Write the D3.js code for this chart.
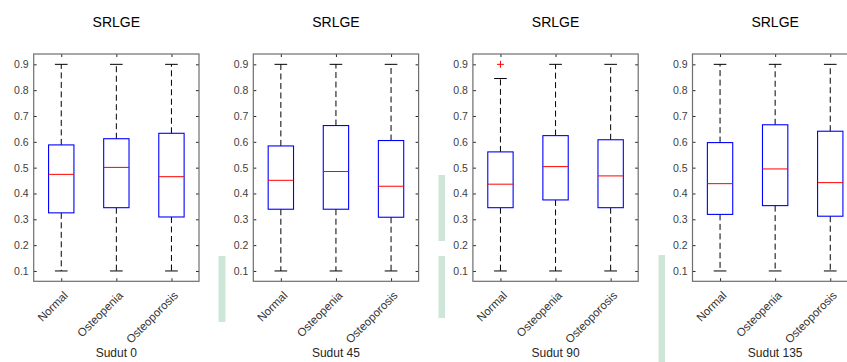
<!DOCTYPE html>
<html>
<head>
<meta charset="utf-8">
<script src="https://cdn.jsdelivr.net/npm/d3@7"></script>
<style>
  html, body { margin: 0; padding: 0; background: #fff; }
  svg { display: block; font-family: "Liberation Sans", Arial, sans-serif; }
</style>
</head>
<body>
<div id="chart"></div>
<script>
// SRLGE boxplots per angle (Sudut), three bone classes each

const angles = ['Sudut 0', 'Sudut 45', 'Sudut 90', 'Sudut 135']
const categories = ['Normal', 'Osteopenia', 'Osteoporosis']
const yTicks = [0.1, 0.2, 0.3, 0.4, 0.5, 0.6, 0.7, 0.8, 0.9]

// one row per angle, one value per category
const q1Values = [
  [0.325, 0.345, 0.309],
  [0.339, 0.339, 0.308],
  [0.345, 0.375, 0.345],
  [0.319, 0.353, 0.312]
]
const medianValues = [
  [0.474, 0.501, 0.465],
  [0.451, 0.485, 0.428],
  [0.436, 0.504, 0.468],
  [0.438, 0.495, 0.442]
]
const q3Values = [
  [0.588, 0.612, 0.633],
  [0.584, 0.663, 0.605],
  [0.561, 0.624, 0.608],
  [0.597, 0.666, 0.641]
]
const whiskerLow = [
  [0.1, 0.1, 0.1],
  [0.1, 0.1, 0.1],
  [0.1, 0.1, 0.1],
  [0.1, 0.1, 0.1]
]
const whiskerHigh = [
  [0.9, 0.9, 0.9],
  [0.9, 0.9, 0.9],
  [0.845, 0.9, 0.9],
  [0.9, 0.9, 0.9]
]
const outliers = [
  [[], [], []],
  [[], [], []],
  [[0.9], [], []],
  [[], [], []]
]

const width = 847
const height = 362
const panelWidth = 165.3
const panelStep = 219.6
const firstLeft = 33.7
const plotTop = 54
const plotBottom = 281.3
const axisColor = '#262626'

const svg = d3.select('#chart')
  .append('svg')
  .attr('width', width)
  .attr('height', height)

// faint green strips from the source document behind the plots
const strips = [
  { x: 218.5, y: 256, w: 7, h: 66 },
  { x: 438.5, y: 175, w: 6.5, h: 66 },
  { x: 438.5, y: 256, w: 6.5, h: 62 },
  { x: 658.5, y: 255, w: 6.5, h: 107 }
]
svg.selectAll('.strip')
  .data(strips)
  .join('rect')
  .attr('class', 'strip')
  .attr('x', d => d.x)
  .attr('y', d => d.y)
  .attr('width', d => d.w)
  .attr('height', d => d.h)
  .attr('fill', '#cde6d8')

const y = d3.scaleLinear()
  .domain([0.06, 0.94])
  .range([plotBottom, plotTop])

angles.forEach((angle, a) => {
  const left = firstLeft + a * panelStep
  const right = left + panelWidth

  const x = d3.scalePoint()
    .domain(categories)
    .range([left, right])
    .padding(0.5)
  const step = x.step()
  const boxW = step * 0.46
  const capW = boxW * 0.5

  const g = svg.append('g')

  // y axis (labels left, ticks inside)
  const yAxis = g.append('g')
    .attr('transform', `translate(${left},0)`)
    .call(d3.axisLeft(y).tickValues(yTicks).tickFormat(d3.format('.1f')).tickSize(-3).tickSizeOuter(0).tickPadding(5))
  yAxis.select('.domain').remove()
  yAxis.selectAll('line').attr('stroke', axisColor)
  yAxis.selectAll('text').attr('fill', '#404040').attr('font-size', 10.5)

  // right side ticks
  const yRight = g.append('g')
    .attr('transform', `translate(${right},0)`)
    .call(d3.axisRight(y).tickValues(yTicks).tickFormat('').tickSize(-3).tickSizeOuter(0))
  yRight.select('.domain').remove()
  yRight.selectAll('line').attr('stroke', axisColor)

  // top ticks
  const xTop = g.append('g')
    .attr('transform', `translate(0,${plotTop})`)
    .call(d3.axisTop(x).tickFormat('').tickSize(-3).tickSizeOuter(0))
  xTop.select('.domain').remove()
  xTop.selectAll('line').attr('stroke', axisColor)

  // bottom ticks with rotated labels
  const xBottom = g.append('g')
    .attr('transform', `translate(0,${plotBottom})`)
    .call(d3.axisBottom(x).tickSize(-3).tickSizeOuter(0))
  xBottom.select('.domain').remove()
  xBottom.selectAll('line').attr('stroke', axisColor)
  xBottom.selectAll('text')
    .attr('y', 0)
    .attr('dy', '0.35em')
    .attr('text-anchor', 'end')
    .attr('transform', 'translate(4,12) rotate(-45)')
    .attr('fill', '#333')
    .attr('font-size', 11.5)

  // box frame
  g.append('rect')
    .attr('x', left)
    .attr('y', plotTop)
    .attr('width', right - left)
    .attr('height', plotBottom - plotTop)
    .attr('fill', 'none')
    .attr('stroke', '#6e6e6e')
    .attr('stroke-width', 1.2)

  const rows = categories.map((c, i) => ({
    cat: c,
    q1: q1Values[a][i],
    med: medianValues[a][i],
    q3: q3Values[a][i],
    lo: whiskerLow[a][i],
    hi: whiskerHigh[a][i],
    out: outliers[a][i]
  }))

  const items = g.selectAll('.item')
    .data(rows)
    .join('g')
    .attr('class', 'item')

  // whiskers
  items.append('line')
    .attr('x1', d => x(d.cat)).attr('x2', d => x(d.cat))
    .attr('y1', d => y(d.q3)).attr('y2', d => y(d.hi))
    .attr('stroke', '#000').attr('stroke-dasharray', '6,3.5')
  items.append('line')
    .attr('x1', d => x(d.cat)).attr('x2', d => x(d.cat))
    .attr('y1', d => y(d.q1)).attr('y2', d => y(d.lo))
    .attr('stroke', '#000').attr('stroke-dasharray', '6,3.5')

  // caps
  items.append('line')
    .attr('x1', d => x(d.cat) - capW / 2).attr('x2', d => x(d.cat) + capW / 2)
    .attr('y1', d => y(d.hi)).attr('y2', d => y(d.hi))
    .attr('stroke', '#000')
  items.append('line')
    .attr('x1', d => x(d.cat) - capW / 2).attr('x2', d => x(d.cat) + capW / 2)
    .attr('y1', d => y(d.lo)).attr('y2', d => y(d.lo))
    .attr('stroke', '#000')

  // boxes
  items.append('rect')
    .attr('x', d => x(d.cat) - boxW / 2)
    .attr('y', d => y(d.q3))
    .attr('width', boxW)
    .attr('height', d => y(d.q1) - y(d.q3))
    .attr('fill', 'none')
    .attr('stroke', '#0000ff')
    .attr('stroke-width', 1.1)

  // medians
  items.append('line')
    .attr('x1', d => x(d.cat) - boxW / 2).attr('x2', d => x(d.cat) + boxW / 2)
    .attr('y1', d => y(d.med)).attr('y2', d => y(d.med))
    .attr('stroke', '#ff0000')

  // outliers as red plus signs
  items.selectAll('.outlier')
    .data(d => d.out.map(v => ({ cat: d.cat, v })))
    .join('path')
    .attr('class', 'outlier')
    .attr('d', d => {
      const cx = x(d.cat), cy = y(d.v), r = 3.5
      return `M${cx - r},${cy}H${cx + r}M${cx},${cy - r}V${cy + r}`
    })
    .attr('stroke', '#ff0000')
    .attr('fill', 'none')

  // title and x label
  g.append('text')
    .attr('x', (left + right) / 2)
    .attr('y', 27)
    .attr('text-anchor', 'middle')
    .attr('font-size', 14)
    .attr('fill', '#000')
    .text('SRLGE')

  g.append('text')
    .attr('x', (left + right) / 2)
    .attr('y', 357)
    .attr('text-anchor', 'middle')
    .attr('font-size', 12)
    .attr('fill', '#262626')
    .text(angle)
})
</script>
</body>
</html>
